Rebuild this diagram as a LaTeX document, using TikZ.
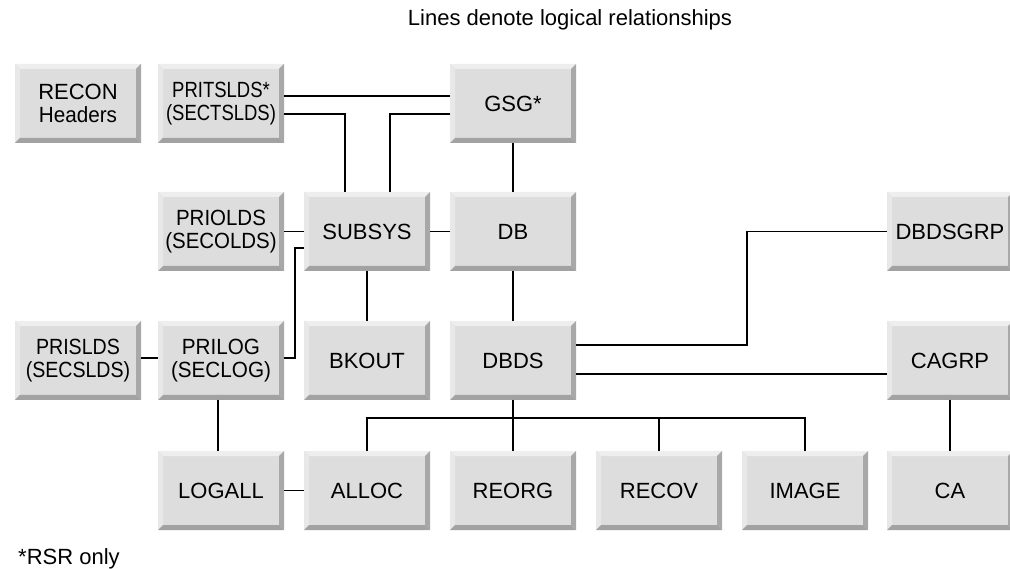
\documentclass[tikz,border=0pt]{standalone}
\usepackage{fontspec}
\setmainfont{Liberation Sans}
\usetikzlibrary{calc}
\definecolor{face}{HTML}{DDDDDD}
\definecolor{bevtop}{HTML}{EEEEEE}
\definecolor{bevleft}{HTML}{E8E8E8}
\definecolor{bevright}{HTML}{A8A8A8}
\definecolor{bevbottom}{HTML}{A2A2A2}
\newcommand\boxfont{\fontsize{22}{23.5}\selectfont}
% horizontally condensed text, so that long labels fit their box
\newcommand\narrow[2]{\scalebox{#1}[1]{#2}}
\tikzset{
  box/.style={minimum width=126pt, minimum height=79pt, inner sep=0pt, outer sep=0pt,
    fill=face, align=center, font=\boxfont,
    path picture={
      \path (path picture bounding box.south west) coordinate (bsw)
            (path picture bounding box.north east) coordinate (bne)
            (bsw |- bne) coordinate (bnw)
            (bne |- bsw) coordinate (bse);
      \fill[bevtop] (bnw) -- (bne) -- ($(bne)+(-5pt,-5pt)$) -- ($(bnw)+(5pt,-5pt)$) -- cycle;
      \fill[bevleft] (bnw) -- ($(bnw)+(5pt,-5pt)$) -- ($(bsw)+(5pt,5pt)$) -- (bsw) -- cycle;
      \fill[bevright] (bne) -- (bse) -- ($(bse)+(-5pt,5pt)$) -- ($(bne)+(-5pt,-5pt)$) -- cycle;
      \fill[bevbottom] (bsw) -- (bse) -- ($(bse)+(-5pt,5pt)$) -- ($(bsw)+(5pt,5pt)$) -- cycle;
    }},
  link/.style={draw=black, line width=1.3pt},
  caption/.style={inner sep=0pt, anchor=base, font=\fontsize{22}{25}\selectfont}
}
\begin{document}
\begin{tikzpicture}[x=1pt, y=-1pt]
\useasboundingbox (0,0) rectangle (1010,569);

% title and footnote
\node[caption] (title) at (570,26) {Lines denote logical relationships};
\node[caption, anchor=base west] (note) at (18,564) {*RSR only};

% row 1
\node[box] (recon)    at (78,103.5)  {RECON\\\narrow{0.94}{Headers}};
\node[box] (pritslds) at (221,103.5) {\narrow{0.84}{PRITSLDS*}\\\narrow{0.84}{(SECTSLDS)}};
\node[box] (gsg)      at (513,103.5) {GSG*};

% row 2
\node[box] (priolds)  at (221,231.5) {\narrow{0.93}{PRIOLDS}\\\narrow{0.93}{(SECOLDS)}};
\node[box] (subsys)   at (367,231.5) {SUBSYS};
\node[box] (db)       at (513,231.5) {DB};
\node[box] (dbdsgrp)  at (950,231.5) {DBDSGRP};

% row 3
\node[box] (prislds)  at (78,360.5)  {\narrow{0.89}{PRISLDS}\\\narrow{0.89}{(SECSLDS)}};
\node[box] (prilog)   at (221,360.5) {\narrow{0.94}{PRILOG}\\\narrow{0.94}{(SECLOG)}};
\node[box] (bkout)    at (367,360.5) {BKOUT};
\node[box] (dbds)     at (513,360.5) {DBDS};
\node[box] (cagrp)    at (950,360.5) {CAGRP};

% row 4
\node[box] (logall)   at (221,490.5) {LOGALL};
\node[box] (alloc)    at (367,490.5) {ALLOC};
\node[box] (reorg)    at (513,490.5) {REORG};
\node[box] (recov)    at (659,490.5) {RECOV};
\node[box] (image)    at (805,490.5) {IMAGE};
\node[box] (ca)       at (950,490.5) {CA};

% connectors around GSG and SUBSYS
\coordinate (pt1) at ([yshift=7.5pt]pritslds.east);
\draw[link] (pt1) -- (pt1 -| gsg.west);
\draw[link] ([yshift=-10.5pt]pritslds.east) -| ([xshift=-22pt]subsys.north);
\draw[link] ([yshift=-10.5pt]gsg.west) -| ([xshift=23pt]subsys.north);
\draw[link] (gsg.south) -- (db.north);
\draw[link] (priolds.east) -- (subsys.west);
\draw[link] (subsys.east) -- (db.west);
\draw[link] ([yshift=2.5pt]prilog.east) -- ++(11,0) |- ([yshift=-16.5pt]subsys.west);
\draw[link] (subsys.south) -- (bkout.north);
\draw[link] (db.south) -- (dbds.north);

% connectors from DBDS
\draw[link] ([yshift=15.5pt]dbds.east) -- ++(171,0) |- (dbdsgrp.west);
\coordinate (ca1) at ([yshift=-13.5pt]dbds.east);
\draw[link] (ca1) -- (ca1 -| cagrp.west);
\draw[link] (cagrp.south) -- (ca.north);
\coordinate (bus) at ([yshift=-18pt]dbds.south);
\draw[link] (dbds.south) -- (reorg.north);
\draw[link] (alloc.north) |- (bus) -| (image.north);
\draw[link] (bus -| recov.north) -- (recov.north);

% log connectors
\coordinate (sl) at ([yshift=2.5pt]prislds.east);
\draw[link] (sl) -- (sl -| prilog.west);
\draw[link] ([xshift=-3pt]prilog.south) -- ([xshift=-3pt]logall.north);
\draw[link] (logall.east) -- (alloc.west);
\end{tikzpicture}
\end{document}
